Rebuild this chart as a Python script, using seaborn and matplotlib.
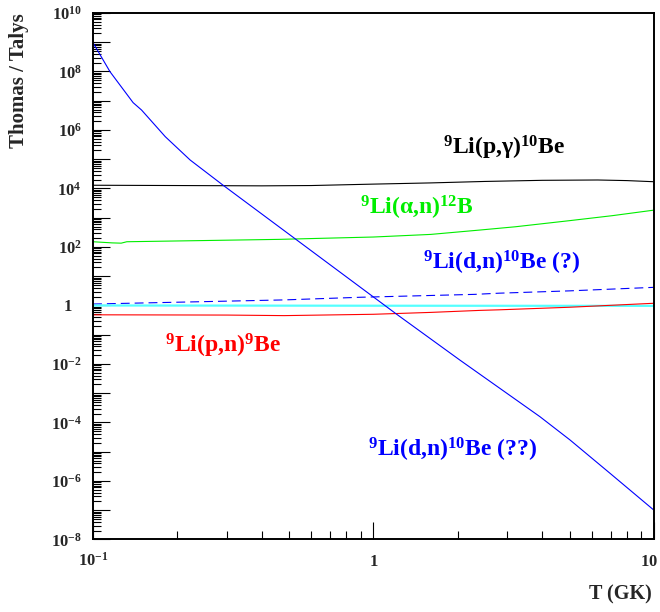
import numpy as np
import matplotlib
matplotlib.use("Agg")
import matplotlib.pyplot as plt
import matplotlib.ticker as mticker
import matplotlib.transforms as mtrans
import seaborn as sns

# ---------------- data ----------------
T_pg = [0.1, 0.2, 0.4, 0.6, 1.0, 1.6, 2.5, 4.0, 6.3, 8.0, 10.0]
R_pg = [1.29e4, 1.26e4, 1.23e4, 1.26e4, 1.41e4, 1.55e4, 1.74e4, 1.90e4, 1.95e4, 1.86e4, 1.70e4]

T_an = [0.1, 0.117, 0.126, 0.132, 0.25, 0.46, 1.0, 1.6, 2.4, 3.2, 5.0, 7.1, 10.0]
R_an = [151, 138, 135, 151, 166, 182, 219, 269, 380, 490, 794, 1175, 1820]

T_dn1 = [0.1, 0.48, 0.9, 2.3, 2.8, 5.0, 10.0]
R_dn1 = [1.12, 1.55, 1.91, 2.40, 2.63, 3.16, 4.17]

T_dn2 = [0.1, 0.115, 0.139, 0.149, 0.181, 0.222, 0.291, 1.21, 2.03, 3.92, 5.02, 6.97, 10.0]
R_dn2 = [9.7e8, 9.8e7, 8.6e6, 4.8e6, 5.9e5, 9.4e4, 1.29e4, 0.50, 1.37e-2, 1.58e-4,
         2.52e-5, 1.83e-6, 1.0e-7]

T_cy = [0.1, 1.0, 10.0]
R_cy = [1.0, 0.98, 0.97]

T_pn = [0.1, 0.3, 0.48, 1.0, 1.6, 2.4, 2.8, 5.0, 10.0]
R_pn = [0.48, 0.47, 0.45, 0.50, 0.58, 0.68, 0.71, 0.87, 1.19]

labels = {
    "pg": r"$^{9}$Li(p,γ)$^{10}$Be",
    "an": r"$^{9}$Li(α,n)$^{12}$B",
    "dn1": r"$^{9}$Li(d,n)$^{10}$Be $\mathsf{(?)}$",
    "pn": r"$^{9}$Li(p,n)$^{9}$Be",
    "dn2": r"$^{9}$Li(d,n)$^{10}$Be $\mathsf{(??)}$",
}

# ---------------- style ----------------
sns.set_style("white")
plt.rcParams["font.family"] = ["Liberation Serif", "DejaVu Serif"]
plt.rcParams["font.weight"] = "bold"
plt.rcParams["mathtext.fontset"] = "custom"
plt.rcParams["mathtext.rm"] = "Liberation Serif:bold"
plt.rcParams["mathtext.bf"] = "Liberation Serif:bold"
plt.rcParams["mathtext.it"] = "Liberation Serif:italic:bold"
plt.rcParams["mathtext.sf"] = "Liberation Serif"
plt.rcParams["mathtext.default"] = "rm"

fig = plt.figure(figsize=(6.6, 6.12), dpi=100)
ax = fig.add_axes([0.1409, 0.1185, 0.85, 0.8603])

lw = 0.8
sns.lineplot(x=T_pg, y=R_pg, ax=ax, color="black", lw=lw, errorbar=None, legend=False)
sns.lineplot(x=T_an, y=R_an, ax=ax, color="#00ee00", lw=lw, errorbar=None, legend=False)
sns.lineplot(x=T_dn1, y=R_dn1, ax=ax, color="blue", lw=lw, errorbar=None, legend=False,
             linestyle=(0, (8, 4.5)))
sns.lineplot(x=T_cy, y=R_cy, ax=ax, color="#55ffff", lw=1.6, errorbar=None, legend=False)
sns.lineplot(x=T_pn, y=R_pn, ax=ax, color="red", lw=lw, errorbar=None, legend=False)
sns.lineplot(x=T_dn2, y=R_dn2, ax=ax, color="blue", lw=lw, errorbar=None, legend=False)

ax.set_xscale("log")
ax.set_yscale("log")
ax.set_xlim(0.1, 10)
ax.set_ylim(1e-8, 1e10)

# ticks
ax.yaxis.set_major_locator(mticker.LogLocator(base=10, numticks=40))
ax.yaxis.set_minor_locator(mticker.LogLocator(base=10, subs=np.arange(2, 10), numticks=400))
ax.xaxis.set_major_locator(mticker.LogLocator(base=10, numticks=10))
ax.xaxis.set_minor_locator(mticker.LogLocator(base=10, subs=np.arange(2, 10), numticks=100))


def yfmt(v, pos):
    e = int(round(np.log10(v)))
    if e % 2 or e == 0:
        return ""
    return r"$10^{%d}$" % e


def xfmt(v, pos):
    e = int(round(np.log10(v)))
    if e == 0:
        return r"$1$"
    if e == 1:
        return r"$10$"
    return r"$10^{%d}$" % e


ax.yaxis.set_major_formatter(mticker.FuncFormatter(yfmt))
ax.xaxis.set_major_formatter(mticker.FuncFormatter(xfmt))
ax.yaxis.set_minor_formatter(mticker.NullFormatter())
ax.xaxis.set_minor_formatter(mticker.NullFormatter())

ax.tick_params(which="major", direction="in", length=12, width=0.8, labelsize=12,
               top=False, right=False, left=True, bottom=True, color="black")
ax.tick_params(which="minor", direction="in", length=6, width=0.8,
               top=False, right=False, left=True, bottom=True, color="black")
ax.tick_params(axis="y", which="major", pad=8)
ax.tick_params(axis="x", which="major", pad=19)

xlocs = list(ax.xaxis.get_majorticklocs())
xticks = ax.xaxis.get_major_ticks(len(xlocs))
for loc, t in zip(xlocs, xticks):
    t.label1.set_verticalalignment("baseline")
    if abs(loc - 10) < 1e-9:
        t.label1.set_horizontalalignment("right")
        t.label1.set_transform(t.label1.get_transform()
                               + mtrans.ScaledTranslation(4 / 100, 0, fig.dpi_scale_trans))

# the "1" label of the y axis (ROOT aligns it with the base of the 10^n labels)
ax.text(-0.038, 1.0, "1", transform=ax.get_yaxis_transform(), ha="right",
        va="center_baseline", fontsize=12, fontweight="bold")

for s in ax.spines.values():
    s.set_linewidth(1.4)
    s.set_color("black")
    s.set_visible(True)

ax.set_xlabel("T (GK)", fontsize=14.5, fontweight="bold", loc="right")
ax.xaxis.set_label_coords(0.9964, -0.085)
ax.set_ylabel("Thomas / Talys", fontsize=15, fontweight="bold", loc="top")
ax.yaxis.set_label_coords(-0.114, 1.0)

# annotations
fs = 17
ax.text(1.77, 1.4e5, labels["pg"], color="black", fontsize=fs, ha="left", va="baseline")
ax.text(0.895, 1.24e3, labels["an"], color="#00ee00", fontsize=fs, ha="left", va="baseline")
ax.text(1.50, 16.3, labels["dn1"], color="blue", fontsize=fs, ha="left", va="baseline")
ax.text(0.181, 0.024, labels["pn"], color="red", fontsize=fs, ha="left", va="baseline")
ax.text(0.956, 6.6e-6, labels["dn2"], color="blue", fontsize=fs, ha="left", va="baseline")

fig.savefig("out.png", dpi=100)
